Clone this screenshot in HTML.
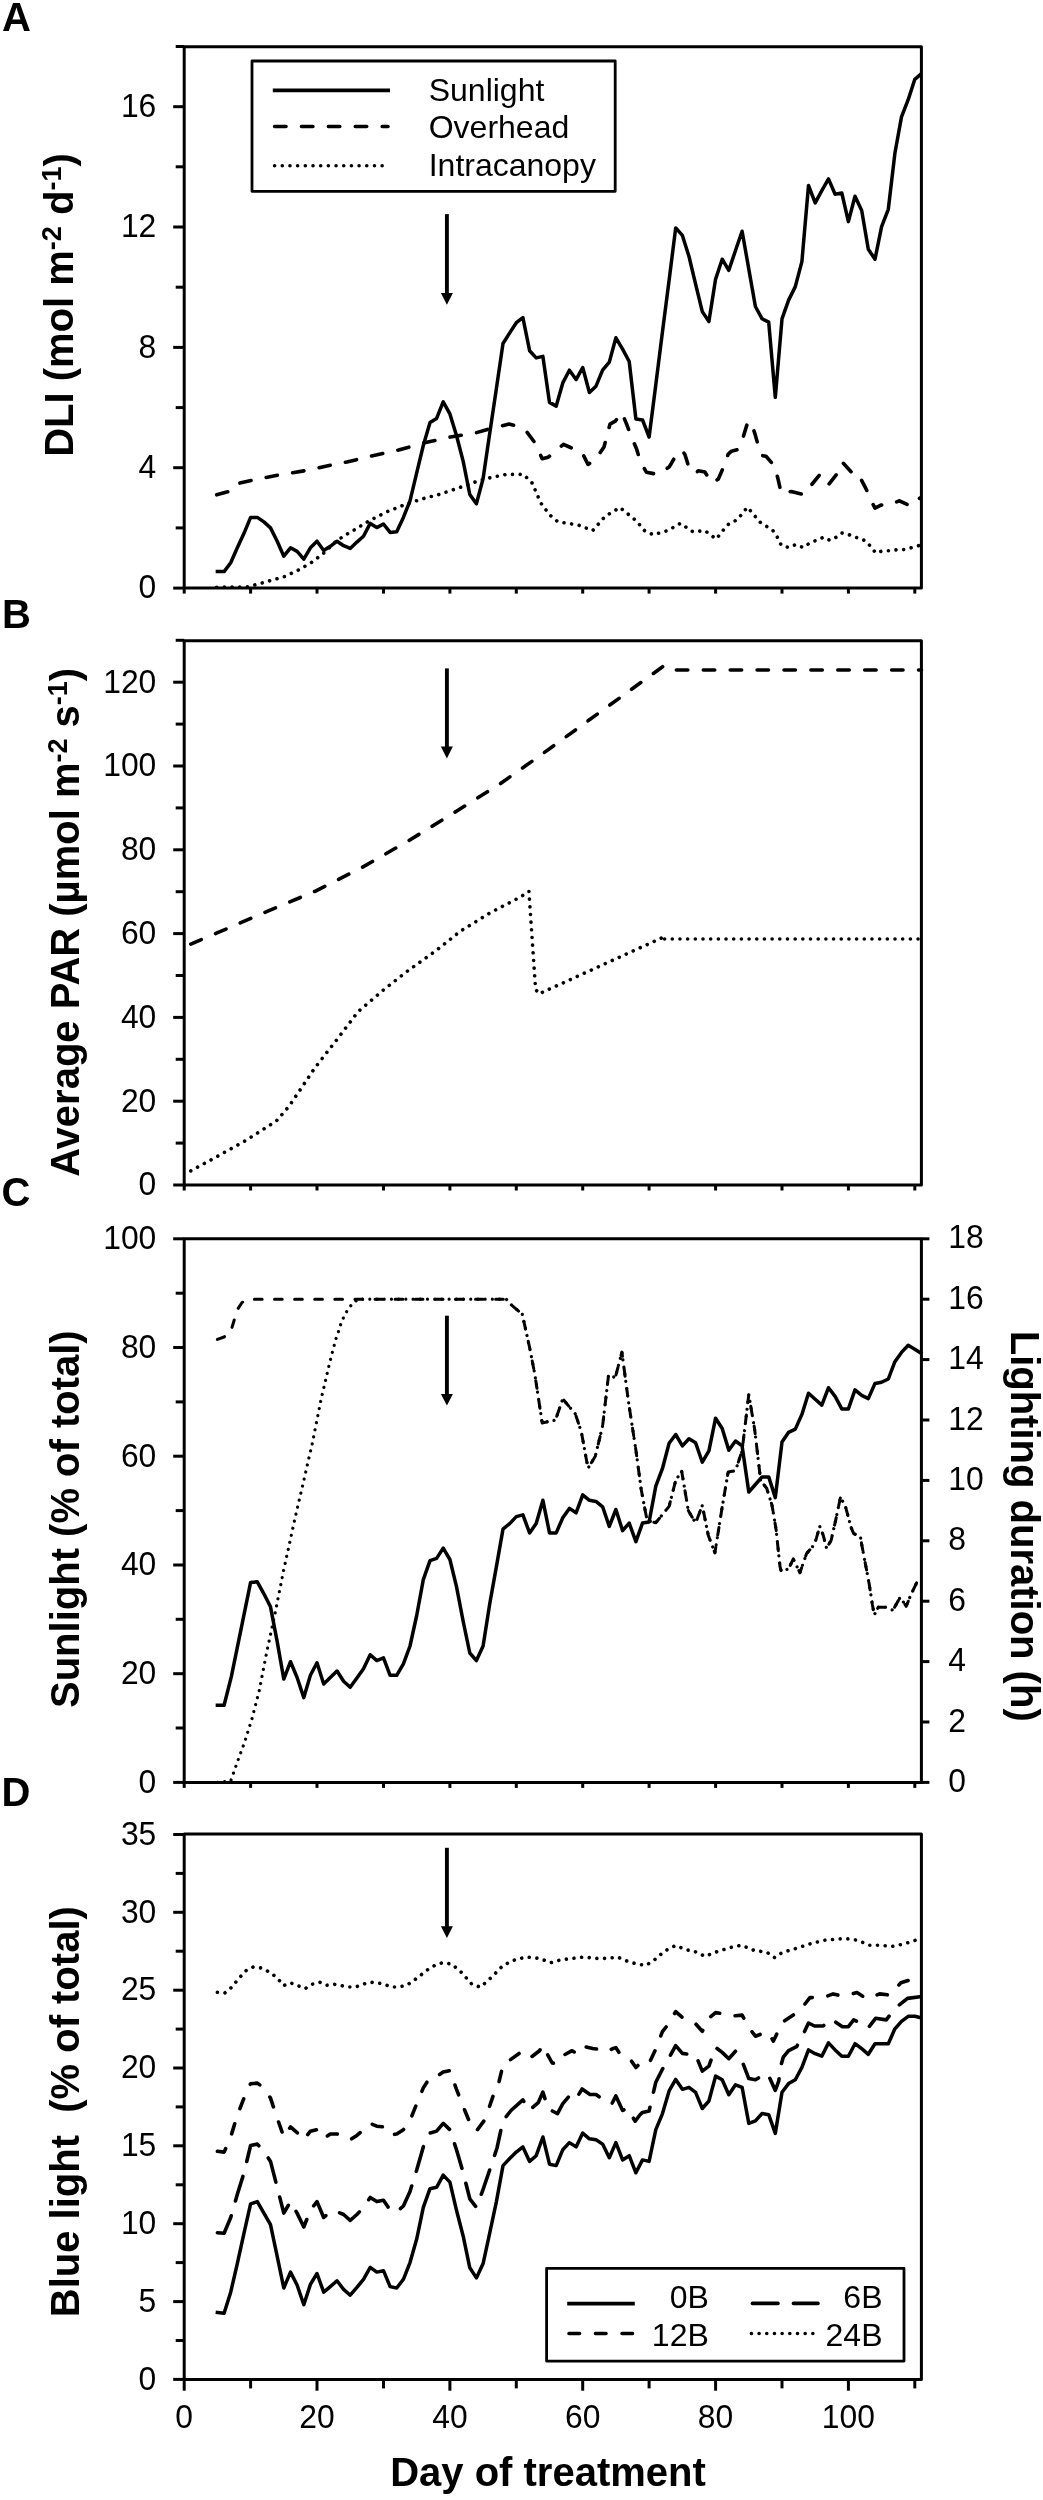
<!DOCTYPE html>
<html><head><meta charset="utf-8"><style>
html,body{margin:0;padding:0;background:#fff;}
svg{display:block;will-change:transform;}
text{font-family:"Liberation Sans",sans-serif;fill:#000;}
.tl{font-size:33px;}
.lg{font-size:32px;}
.ti{font-size:40px;font-weight:bold;}
.pl{font-size:40px;font-weight:bold;}
.sup{font-size:27px;}
</style></head><body>
<svg width="1043" height="2500" viewBox="0 0 1043 2500">
<rect width="1043" height="2500" fill="#fff"/>
<rect x="184.2" y="46.7" width="737.2" height="541.4" stroke="#000" stroke-width="3.0" fill="none" stroke-linejoin="round"/>
<line x1="173.2" y1="588.1" x2="184.2" y2="588.1" stroke="#000" stroke-width="3.0"/>
<text transform="translate(156.30,598.40) scale(0.965,1)" class="tl" text-anchor="end">0</text>
<line x1="175.7" y1="527.9" x2="184.2" y2="527.9" stroke="#000" stroke-width="3.0"/>
<line x1="173.2" y1="467.7" x2="184.2" y2="467.7" stroke="#000" stroke-width="3.0"/>
<text transform="translate(156.30,478.04) scale(0.965,1)" class="tl" text-anchor="end">4</text>
<line x1="175.7" y1="407.6" x2="184.2" y2="407.6" stroke="#000" stroke-width="3.0"/>
<line x1="173.2" y1="347.4" x2="184.2" y2="347.4" stroke="#000" stroke-width="3.0"/>
<text transform="translate(156.30,357.68) scale(0.965,1)" class="tl" text-anchor="end">8</text>
<line x1="175.7" y1="287.2" x2="184.2" y2="287.2" stroke="#000" stroke-width="3.0"/>
<line x1="173.2" y1="227.0" x2="184.2" y2="227.0" stroke="#000" stroke-width="3.0"/>
<text transform="translate(156.30,237.32) scale(0.965,1)" class="tl" text-anchor="end">12</text>
<line x1="175.7" y1="166.8" x2="184.2" y2="166.8" stroke="#000" stroke-width="3.0"/>
<line x1="173.2" y1="106.7" x2="184.2" y2="106.7" stroke="#000" stroke-width="3.0"/>
<text transform="translate(156.30,116.96) scale(0.965,1)" class="tl" text-anchor="end">16</text>
<line x1="175.7" y1="46.5" x2="184.2" y2="46.5" stroke="#000" stroke-width="3.0"/>
<line x1="184.2" y1="588.1" x2="184.2" y2="593.6" stroke="#000" stroke-width="3.0"/>
<line x1="250.6" y1="588.1" x2="250.6" y2="593.6" stroke="#000" stroke-width="3.0"/>
<line x1="317.0" y1="588.1" x2="317.0" y2="593.6" stroke="#000" stroke-width="3.0"/>
<line x1="383.5" y1="588.1" x2="383.5" y2="593.6" stroke="#000" stroke-width="3.0"/>
<line x1="449.9" y1="588.1" x2="449.9" y2="593.6" stroke="#000" stroke-width="3.0"/>
<line x1="516.3" y1="588.1" x2="516.3" y2="593.6" stroke="#000" stroke-width="3.0"/>
<line x1="582.7" y1="588.1" x2="582.7" y2="593.6" stroke="#000" stroke-width="3.0"/>
<line x1="649.1" y1="588.1" x2="649.1" y2="593.6" stroke="#000" stroke-width="3.0"/>
<line x1="715.6" y1="588.1" x2="715.6" y2="593.6" stroke="#000" stroke-width="3.0"/>
<line x1="782.0" y1="588.1" x2="782.0" y2="593.6" stroke="#000" stroke-width="3.0"/>
<line x1="848.4" y1="588.1" x2="848.4" y2="593.6" stroke="#000" stroke-width="3.0"/>
<line x1="914.8" y1="588.1" x2="914.8" y2="593.6" stroke="#000" stroke-width="3.0"/>
<polyline points="216.7,587.2 248.6,586.9 255.3,584.8 270.5,580.6 285.2,576.4 299.1,569.7 312.4,561.9 324.3,552.6 335.3,542.1 341.6,537.5 348.3,533.3 352.6,530.9 369.8,520.4 387.1,511.7 404.4,504.8 421.7,499.0 438.9,494.5 456.1,488.8 476.3,481.6 486.4,478.6 506.3,474.4 523.6,474.4 532.2,483.1 540.9,503.2 549.5,514.7 558.1,521.9 578.1,524.9 592.7,530.6 605.3,516.2 619.9,507.5 635.9,520.4 644.5,530.6 653.1,534.8 667.7,530.6 680.4,523.4 693.0,531.8 704.9,530.6 716.2,539.1 727.5,524.9 737.5,519.5 747.4,507.2 760.1,522.2 772.7,530.3 778.0,538.2 781.3,545.4 788.6,547.5 795.9,544.5 803.2,547.5 809.2,543.3 816.5,540.3 823.8,537.2 829.8,540.3 836.4,537.2 841.8,533.0 847.7,534.2 854.4,537.2 860.4,538.2 866.3,541.5 871.6,547.5 875.6,552.9 882.9,550.8 890.2,550.8 897.6,549.6 904.9,549.6 912.2,547.5 919.5,545.4" fill="none" stroke="#000" stroke-width="3.6" stroke-linejoin="round" stroke-linecap="round" stroke-dasharray="0.01 7.67"/>
<polyline points="216.7,494.8 230.0,491.2 237.3,483.7 252.6,480.1 278.5,475.0 305.1,470.7 331.7,465.0 346.9,462.0 372.7,455.7 398.6,450.0 424.5,442.8 450.4,437.0 476.0,432.8 490.4,428.6 509.0,424.1 515.0,425.6 526.3,431.3 534.9,442.8 542.2,458.7 548.2,457.2 563.5,444.3 569.4,447.0 582.1,452.7 588.0,464.4 595.3,459.9 604.0,447.0 610.0,424.1 615.3,421.1 621.9,412.7 626.6,424.1 631.2,436.4 636.5,448.8 640.5,462.0 646.5,472.3 657.8,474.4 669.1,467.1 676.4,454.8 682.4,450.6 685.0,454.8 689.0,467.7 695.6,473.5 698.3,470.7 704.9,472.0 711.6,482.8 718.2,479.2 723.5,467.1 728.2,454.2 731.5,451.2 737.5,449.7 743.5,436.1 747.4,423.2 750.8,421.7 754.7,433.1 758.7,447.0 761.4,455.4 766.0,456.3 774.7,466.2 778.0,478.9 781.3,493.6 791.3,491.5 803.2,494.5 811.2,485.2 820.5,473.8 829.1,484.0 837.1,473.8 842.4,462.3 851.1,471.7 855.0,478.0 860.4,478.0 866.3,489.4 871.6,501.7 875.0,508.1 880.9,505.1 887.6,505.1 899.5,500.8 910.2,506.0 920.1,497.8" fill="none" stroke="#000" stroke-width="3.6" stroke-linejoin="round" stroke-linecap="round" stroke-dasharray="11.4 15.5"/>
<polyline points="217.4,571.6 224.1,571.6 230.7,562.8 237.3,547.8 244.0,533.3 250.6,517.4 257.3,517.4 263.9,521.9 270.5,527.9 277.2,541.2 283.8,556.2 290.5,547.8 297.1,551.4 303.8,559.2 310.4,547.8 317.0,541.2 323.7,550.5 330.3,546.3 337.0,541.2 343.6,545.7 350.2,548.4 356.9,542.1 363.5,536.3 370.2,523.4 376.8,527.6 383.5,524.0 390.1,532.4 396.7,531.8 403.4,517.4 410.0,500.8 416.7,472.9 423.3,445.5 430.0,422.6 436.6,418.4 443.2,401.8 449.9,413.9 456.5,435.5 463.2,461.4 469.8,494.5 476.4,503.8 483.1,478.6 489.7,433.4 496.4,388.6 503.0,343.5 509.7,332.9 516.3,322.7 522.9,317.6 529.6,350.7 536.2,357.9 542.9,356.4 549.5,402.4 556.2,406.1 562.8,382.9 569.4,370.2 576.1,379.6 582.7,367.5 589.4,392.5 596.0,386.2 602.6,370.2 609.3,362.1 615.9,337.8 622.6,349.2 629.2,361.5 635.9,419.0 642.5,419.9 649.1,437.0 655.8,384.7 662.4,332.3 669.1,280.3 675.7,227.9 682.4,235.4 689.0,256.5 695.6,284.2 702.3,311.6 708.9,321.5 715.6,279.1 722.2,259.2 728.8,270.3 735.5,250.5 742.1,231.2 748.8,269.1 755.4,306.5 762.1,318.8 768.7,322.1 775.3,397.3 782.0,318.8 788.6,300.1 795.3,286.6 801.9,261.6 808.5,185.5 815.2,202.9 821.8,190.6 828.5,178.9 835.1,194.2 841.8,193.0 848.4,221.6 855.0,196.3 861.7,210.5 868.3,249.3 875.0,259.2 881.6,226.7 888.3,209.3 894.9,153.3 901.5,116.9 908.2,99.7 914.8,79.3 920.1,74.8" fill="none" stroke="#000" stroke-width="3.5" stroke-linejoin="round" stroke-linecap="square"/>
<line x1="446.9" y1="214.1" x2="446.9" y2="294.1" stroke="#000" stroke-width="3.9"/>
<polygon points="440.9,293.1 452.9,293.1 446.9,304.7" fill="#000"/>
<rect x="252" y="61" width="363.2" height="130.3" fill="none" stroke="#000" stroke-width="2.8" stroke-linejoin="round"/>
<line x1="272.8" y1="90.4" x2="390" y2="90.4" stroke="#000" stroke-width="3.6"/>
<line x1="274.6" y1="126.5" x2="388" y2="126.5" fill="none" stroke="#000" stroke-width="3.6" stroke-linejoin="round" stroke-linecap="round" stroke-dasharray="11.4 15.5"/>
<line x1="274.6" y1="165.8" x2="385" y2="165.8" fill="none" stroke="#000" stroke-width="3.6" stroke-linejoin="round" stroke-linecap="round" stroke-dasharray="0.01 7.67"/>
<text x="428.7" y="100.5" class="lg">Sunlight</text>
<text x="428.7" y="138" class="lg">Overhead</text>
<text x="428.7" y="176.3" class="lg">Intracanopy</text>
<rect x="184.2" y="640.7" width="737.2" height="544.3" stroke="#000" stroke-width="3.0" fill="none" stroke-linejoin="round"/>
<line x1="173.2" y1="1185.0" x2="184.2" y2="1185.0" stroke="#000" stroke-width="3.0"/>
<text transform="translate(156.30,1195.30) scale(0.965,1)" class="tl" text-anchor="end">0</text>
<line x1="175.7" y1="1143.1" x2="184.2" y2="1143.1" stroke="#000" stroke-width="3.0"/>
<line x1="173.2" y1="1101.2" x2="184.2" y2="1101.2" stroke="#000" stroke-width="3.0"/>
<text transform="translate(156.30,1111.50) scale(0.965,1)" class="tl" text-anchor="end">20</text>
<line x1="175.7" y1="1059.3" x2="184.2" y2="1059.3" stroke="#000" stroke-width="3.0"/>
<line x1="173.2" y1="1017.4" x2="184.2" y2="1017.4" stroke="#000" stroke-width="3.0"/>
<text transform="translate(156.30,1027.70) scale(0.965,1)" class="tl" text-anchor="end">40</text>
<line x1="175.7" y1="975.5" x2="184.2" y2="975.5" stroke="#000" stroke-width="3.0"/>
<line x1="173.2" y1="933.6" x2="184.2" y2="933.6" stroke="#000" stroke-width="3.0"/>
<text transform="translate(156.30,943.90) scale(0.965,1)" class="tl" text-anchor="end">60</text>
<line x1="175.7" y1="891.7" x2="184.2" y2="891.7" stroke="#000" stroke-width="3.0"/>
<line x1="173.2" y1="849.8" x2="184.2" y2="849.8" stroke="#000" stroke-width="3.0"/>
<text transform="translate(156.30,860.10) scale(0.965,1)" class="tl" text-anchor="end">80</text>
<line x1="175.7" y1="807.9" x2="184.2" y2="807.9" stroke="#000" stroke-width="3.0"/>
<line x1="173.2" y1="766.0" x2="184.2" y2="766.0" stroke="#000" stroke-width="3.0"/>
<text transform="translate(156.30,776.30) scale(0.965,1)" class="tl" text-anchor="end">100</text>
<line x1="175.7" y1="724.1" x2="184.2" y2="724.1" stroke="#000" stroke-width="3.0"/>
<line x1="173.2" y1="682.2" x2="184.2" y2="682.2" stroke="#000" stroke-width="3.0"/>
<text transform="translate(156.30,692.50) scale(0.965,1)" class="tl" text-anchor="end">120</text>
<line x1="175.7" y1="640.3" x2="184.2" y2="640.3" stroke="#000" stroke-width="3.0"/>
<line x1="184.2" y1="1185.0" x2="184.2" y2="1190.5" stroke="#000" stroke-width="3.0"/>
<line x1="250.6" y1="1185.0" x2="250.6" y2="1190.5" stroke="#000" stroke-width="3.0"/>
<line x1="317.0" y1="1185.0" x2="317.0" y2="1190.5" stroke="#000" stroke-width="3.0"/>
<line x1="383.5" y1="1185.0" x2="383.5" y2="1190.5" stroke="#000" stroke-width="3.0"/>
<line x1="449.9" y1="1185.0" x2="449.9" y2="1190.5" stroke="#000" stroke-width="3.0"/>
<line x1="516.3" y1="1185.0" x2="516.3" y2="1190.5" stroke="#000" stroke-width="3.0"/>
<line x1="582.7" y1="1185.0" x2="582.7" y2="1190.5" stroke="#000" stroke-width="3.0"/>
<line x1="649.1" y1="1185.0" x2="649.1" y2="1190.5" stroke="#000" stroke-width="3.0"/>
<line x1="715.6" y1="1185.0" x2="715.6" y2="1190.5" stroke="#000" stroke-width="3.0"/>
<line x1="782.0" y1="1185.0" x2="782.0" y2="1190.5" stroke="#000" stroke-width="3.0"/>
<line x1="848.4" y1="1185.0" x2="848.4" y2="1190.5" stroke="#000" stroke-width="3.0"/>
<line x1="914.8" y1="1185.0" x2="914.8" y2="1190.5" stroke="#000" stroke-width="3.0"/>
<polyline points="190.8,1170.8 216.4,1156.9 245.6,1140.6 276.5,1120.9 289.1,1106.2 315.0,1067.7 336.3,1040.4 358.2,1011.5 384.1,989.3 409.4,969.6 435.3,951.2 460.5,931.1 489.7,913.1 520.9,896.7 528.9,891.3 535.6,989.3 538.9,993.9 663.8,937.0" fill="none" stroke="#000" stroke-width="3.6" stroke-linejoin="round" stroke-linecap="round" stroke-dasharray="0.01 7.67"/>
<line x1="664.6" y1="939.0" x2="920.4" y2="939.0" fill="none" stroke="#000" stroke-width="3.6" stroke-linejoin="round" stroke-linecap="round" stroke-dasharray="0.01 7.67"/>
<polyline points="190.8,944.1 216.4,933.2 267.2,911.4 315.0,891.3 362.2,867.4 409.4,840.2 457.2,810.8 500.4,783.6 544.2,752.6 663.8,665.9 669.1,670.0 921.5,670.0" fill="none" stroke="#000" stroke-width="3.6" stroke-linejoin="round" stroke-linecap="round" stroke-dasharray="11.4 15.5"/>
<line x1="446.9" y1="668.4" x2="446.9" y2="747.4" stroke="#000" stroke-width="3.9"/>
<polygon points="440.9,746.4 452.9,746.4 446.9,758.4" fill="#000"/>
<rect x="184.2" y="1238.8" width="737.2" height="543.6" stroke="#000" stroke-width="3.0" fill="none" stroke-linejoin="round"/>
<line x1="173.2" y1="1782.4" x2="184.2" y2="1782.4" stroke="#000" stroke-width="3.0"/>
<text transform="translate(156.30,1792.70) scale(0.965,1)" class="tl" text-anchor="end">0</text>
<line x1="175.7" y1="1728.0" x2="184.2" y2="1728.0" stroke="#000" stroke-width="3.0"/>
<line x1="173.2" y1="1673.7" x2="184.2" y2="1673.7" stroke="#000" stroke-width="3.0"/>
<text transform="translate(156.30,1683.98) scale(0.965,1)" class="tl" text-anchor="end">20</text>
<line x1="175.7" y1="1619.3" x2="184.2" y2="1619.3" stroke="#000" stroke-width="3.0"/>
<line x1="173.2" y1="1565.0" x2="184.2" y2="1565.0" stroke="#000" stroke-width="3.0"/>
<text transform="translate(156.30,1575.26) scale(0.965,1)" class="tl" text-anchor="end">40</text>
<line x1="175.7" y1="1510.6" x2="184.2" y2="1510.6" stroke="#000" stroke-width="3.0"/>
<line x1="173.2" y1="1456.2" x2="184.2" y2="1456.2" stroke="#000" stroke-width="3.0"/>
<text transform="translate(156.30,1466.54) scale(0.965,1)" class="tl" text-anchor="end">60</text>
<line x1="175.7" y1="1401.9" x2="184.2" y2="1401.9" stroke="#000" stroke-width="3.0"/>
<line x1="173.2" y1="1347.5" x2="184.2" y2="1347.5" stroke="#000" stroke-width="3.0"/>
<text transform="translate(156.30,1357.82) scale(0.965,1)" class="tl" text-anchor="end">80</text>
<line x1="175.7" y1="1293.2" x2="184.2" y2="1293.2" stroke="#000" stroke-width="3.0"/>
<line x1="173.2" y1="1238.8" x2="184.2" y2="1238.8" stroke="#000" stroke-width="3.0"/>
<text transform="translate(156.30,1249.10) scale(0.965,1)" class="tl" text-anchor="end">100</text>
<line x1="921.4" y1="1782.4" x2="929.4" y2="1782.4" stroke="#000" stroke-width="3.0"/>
<text transform="translate(948.20,1792.00) scale(0.965,1)" class="tl" text-anchor="start">0</text>
<line x1="921.4" y1="1722.0" x2="929.4" y2="1722.0" stroke="#000" stroke-width="3.0"/>
<text transform="translate(948.20,1731.60) scale(0.965,1)" class="tl" text-anchor="start">2</text>
<line x1="921.4" y1="1661.6" x2="929.4" y2="1661.6" stroke="#000" stroke-width="3.0"/>
<text transform="translate(948.20,1671.20) scale(0.965,1)" class="tl" text-anchor="start">4</text>
<line x1="921.4" y1="1601.2" x2="929.4" y2="1601.2" stroke="#000" stroke-width="3.0"/>
<text transform="translate(948.20,1610.80) scale(0.965,1)" class="tl" text-anchor="start">6</text>
<line x1="921.4" y1="1540.8" x2="929.4" y2="1540.8" stroke="#000" stroke-width="3.0"/>
<text transform="translate(948.20,1550.40) scale(0.965,1)" class="tl" text-anchor="start">8</text>
<line x1="921.4" y1="1480.4" x2="929.4" y2="1480.4" stroke="#000" stroke-width="3.0"/>
<text transform="translate(948.20,1490.00) scale(0.965,1)" class="tl" text-anchor="start">10</text>
<line x1="921.4" y1="1420.0" x2="929.4" y2="1420.0" stroke="#000" stroke-width="3.0"/>
<text transform="translate(948.20,1429.60) scale(0.965,1)" class="tl" text-anchor="start">12</text>
<line x1="921.4" y1="1359.6" x2="929.4" y2="1359.6" stroke="#000" stroke-width="3.0"/>
<text transform="translate(948.20,1369.20) scale(0.965,1)" class="tl" text-anchor="start">14</text>
<line x1="921.4" y1="1299.2" x2="929.4" y2="1299.2" stroke="#000" stroke-width="3.0"/>
<text transform="translate(948.20,1308.80) scale(0.965,1)" class="tl" text-anchor="start">16</text>
<line x1="921.4" y1="1238.8" x2="929.4" y2="1238.8" stroke="#000" stroke-width="3.0"/>
<text transform="translate(948.20,1248.40) scale(0.965,1)" class="tl" text-anchor="start">18</text>
<line x1="184.2" y1="1782.4" x2="184.2" y2="1787.9" stroke="#000" stroke-width="3.0"/>
<line x1="250.6" y1="1782.4" x2="250.6" y2="1787.9" stroke="#000" stroke-width="3.0"/>
<line x1="317.0" y1="1782.4" x2="317.0" y2="1787.9" stroke="#000" stroke-width="3.0"/>
<line x1="383.5" y1="1782.4" x2="383.5" y2="1787.9" stroke="#000" stroke-width="3.0"/>
<line x1="449.9" y1="1782.4" x2="449.9" y2="1787.9" stroke="#000" stroke-width="3.0"/>
<line x1="516.3" y1="1782.4" x2="516.3" y2="1787.9" stroke="#000" stroke-width="3.0"/>
<line x1="582.7" y1="1782.4" x2="582.7" y2="1787.9" stroke="#000" stroke-width="3.0"/>
<line x1="649.1" y1="1782.4" x2="649.1" y2="1787.9" stroke="#000" stroke-width="3.0"/>
<line x1="715.6" y1="1782.4" x2="715.6" y2="1787.9" stroke="#000" stroke-width="3.0"/>
<line x1="782.0" y1="1782.4" x2="782.0" y2="1787.9" stroke="#000" stroke-width="3.0"/>
<line x1="848.4" y1="1782.4" x2="848.4" y2="1787.9" stroke="#000" stroke-width="3.0"/>
<line x1="914.8" y1="1782.4" x2="914.8" y2="1787.9" stroke="#000" stroke-width="3.0"/>
<polyline points="217.4,1782.4 230.7,1780.9 237.3,1762.2 244.6,1742.2 251.9,1719.0 259.3,1690.3 266.6,1652.8 275.2,1612.7 283.8,1569.5 295.1,1517.8 303.8,1480.4 312.4,1443.0 321.0,1399.8 329.7,1362.6 332.3,1352.4 336.3,1337.6 339.0,1330.0 341.0,1323.4 344.3,1315.8 348.3,1308.9 352.9,1303.1 358.2,1299.2 506.3,1299.2 511.7,1305.2 522.3,1314.3 529.6,1347.5 534.9,1374.7 542.2,1423.0 555.5,1420.0 562.8,1398.9 575.4,1414.0 581.4,1432.1 588.0,1468.3 595.3,1456.2 602.6,1426.0 608.6,1374.7 615.3,1377.7 621.9,1352.1 628.5,1401.9 635.9,1450.2 641.2,1489.5 647.1,1520.6 655.8,1522.7 669.1,1506.4 675.7,1480.4 681.7,1471.3 688.3,1510.6 695.6,1523.0 702.3,1505.5 708.3,1535.4 714.9,1552.9 722.2,1507.0 728.2,1471.9 735.5,1470.7 742.1,1450.8 748.8,1394.6 754.7,1429.7 760.7,1480.7 766.7,1488.3 772.0,1505.2 776.0,1529.0 780.0,1566.5 781.3,1571.3 788.6,1568.9 793.3,1558.9 799.9,1572.8 806.6,1553.5 814.5,1544.4 819.8,1526.6 823.2,1535.1 826.5,1548.0 831.1,1540.5 835.8,1519.7 840.4,1497.6 845.1,1505.2 851.1,1527.5 853.7,1533.6 860.4,1536.6 861.7,1544.4 869.0,1582.8 872.3,1604.2 874.3,1614.8 878.3,1607.2 886.3,1607.2 892.9,1610.3 900.2,1597.3 906.2,1606.3 910.8,1594.9 917.5,1581.0" fill="none" stroke="#000" stroke-width="3.2" stroke-linejoin="round" stroke-linecap="round" stroke-dasharray="0.01 7.2"/>
<polyline points="217.4,1339.4 224.1,1337.0 230.7,1331.8 237.3,1309.8 242.0,1302.5 249.3,1299.2 358.2,1299.2 506.3,1299.2 511.7,1305.2 522.3,1314.3 529.6,1347.5 534.9,1374.7 542.2,1423.0 555.5,1420.0 562.8,1398.9 575.4,1414.0 581.4,1432.1 588.0,1468.3 595.3,1456.2 602.6,1426.0 608.6,1374.7 615.3,1377.7 621.9,1352.1 628.5,1401.9 635.9,1450.2 641.2,1489.5 647.1,1520.6 655.8,1522.7 669.1,1506.4 675.7,1480.4 681.7,1471.3 688.3,1510.6 695.6,1523.0 702.3,1505.5 708.3,1535.4 714.9,1552.9 722.2,1507.0 728.2,1471.9 735.5,1470.7 742.1,1450.8 748.8,1394.6 754.7,1429.7 760.7,1480.7 766.7,1488.3 772.0,1505.2 776.0,1529.0 780.0,1566.5 781.3,1571.3 788.6,1568.9 793.3,1558.9 799.9,1572.8 806.6,1553.5 814.5,1544.4 819.8,1526.6 823.2,1535.1 826.5,1548.0 831.1,1540.5 835.8,1519.7 840.4,1497.6 845.1,1505.2 851.1,1527.5 853.7,1533.6 860.4,1536.6 861.7,1544.4 869.0,1582.8 872.3,1604.2 874.3,1614.8 878.3,1607.2 886.3,1607.2 892.9,1610.3 900.2,1597.3 906.2,1606.3 910.8,1594.9 917.5,1581.0" fill="none" stroke="#000" stroke-width="3.0" stroke-linejoin="round" stroke-linecap="round" stroke-dasharray="7.7 12.4"/>
<polyline points="217.4,1705.2 224.1,1705.2 231.4,1676.4 250.6,1582.4 257.3,1581.8 263.9,1593.8 270.5,1606.8 277.2,1641.6 283.8,1679.1 290.5,1661.7 297.1,1677.5 303.8,1697.6 310.4,1675.3 317.0,1662.8 323.7,1684.0 330.3,1677.5 337.0,1671.0 343.6,1681.3 350.2,1687.3 356.9,1678.0 363.5,1668.8 370.2,1654.7 376.8,1660.6 383.5,1657.9 390.1,1675.3 396.7,1675.3 403.4,1663.9 410.0,1646.0 416.7,1615.5 423.3,1579.6 430.0,1560.6 436.6,1558.4 443.2,1548.1 449.9,1559.5 456.5,1586.7 463.2,1621.5 469.8,1653.0 476.4,1660.6 483.1,1646.0 489.7,1604.1 496.4,1566.6 503.0,1529.1 509.7,1523.6 516.3,1516.6 522.9,1514.9 529.6,1532.9 536.2,1523.6 542.9,1500.3 549.5,1532.9 556.2,1532.9 562.8,1517.7 569.4,1508.4 576.1,1512.8 582.7,1494.8 589.4,1500.3 596.0,1501.4 602.6,1506.8 609.3,1526.4 615.9,1509.5 622.6,1530.7 629.2,1523.1 635.9,1541.6 642.5,1523.1 649.1,1522.0 655.8,1486.1 662.4,1468.7 669.1,1443.2 675.7,1434.5 682.4,1445.9 689.0,1438.8 695.6,1442.7 702.3,1462.2 708.9,1450.8 715.6,1418.2 722.2,1428.5 728.8,1450.3 735.5,1441.0 742.1,1445.9 748.8,1492.1 755.4,1484.5 762.1,1476.9 768.7,1476.9 775.3,1497.6 782.0,1442.1 788.6,1432.3 795.3,1429.1 801.9,1414.4 808.5,1393.2 815.2,1399.2 821.8,1405.1 828.5,1387.7 835.1,1396.4 841.8,1408.9 848.4,1408.9 855.0,1389.9 861.7,1395.4 868.3,1398.6 875.0,1383.4 881.6,1382.3 888.3,1379.0 894.9,1361.7 901.5,1352.4 908.2,1345.3 914.8,1349.2 920.8,1353.0" fill="none" stroke="#000" stroke-width="3.5" stroke-linejoin="round" stroke-linecap="square"/>
<line x1="446.9" y1="1315.7" x2="446.9" y2="1395.0" stroke="#000" stroke-width="3.9"/>
<polygon points="440.9,1394.0 452.9,1394.0 446.9,1405.4" fill="#000"/>
<rect x="184.2" y="1834.1" width="737.2" height="545.3" stroke="#000" stroke-width="3.0" fill="none" stroke-linejoin="round"/>
<line x1="173.2" y1="2379.4" x2="184.2" y2="2379.4" stroke="#000" stroke-width="3.0"/>
<text transform="translate(156.30,2389.70) scale(0.965,1)" class="tl" text-anchor="end">0</text>
<line x1="175.7" y1="2340.5" x2="184.2" y2="2340.5" stroke="#000" stroke-width="3.0"/>
<line x1="173.2" y1="2301.6" x2="184.2" y2="2301.6" stroke="#000" stroke-width="3.0"/>
<text transform="translate(156.30,2311.85) scale(0.965,1)" class="tl" text-anchor="end">5</text>
<line x1="175.7" y1="2262.6" x2="184.2" y2="2262.6" stroke="#000" stroke-width="3.0"/>
<line x1="173.2" y1="2223.7" x2="184.2" y2="2223.7" stroke="#000" stroke-width="3.0"/>
<text transform="translate(156.30,2234.00) scale(0.965,1)" class="tl" text-anchor="end">10</text>
<line x1="175.7" y1="2184.8" x2="184.2" y2="2184.8" stroke="#000" stroke-width="3.0"/>
<line x1="173.2" y1="2145.8" x2="184.2" y2="2145.8" stroke="#000" stroke-width="3.0"/>
<text transform="translate(156.30,2156.15) scale(0.965,1)" class="tl" text-anchor="end">15</text>
<line x1="175.7" y1="2106.9" x2="184.2" y2="2106.9" stroke="#000" stroke-width="3.0"/>
<line x1="173.2" y1="2068.0" x2="184.2" y2="2068.0" stroke="#000" stroke-width="3.0"/>
<text transform="translate(156.30,2078.30) scale(0.965,1)" class="tl" text-anchor="end">20</text>
<line x1="175.7" y1="2029.1" x2="184.2" y2="2029.1" stroke="#000" stroke-width="3.0"/>
<line x1="173.2" y1="1990.2" x2="184.2" y2="1990.2" stroke="#000" stroke-width="3.0"/>
<text transform="translate(156.30,2000.45) scale(0.965,1)" class="tl" text-anchor="end">25</text>
<line x1="175.7" y1="1951.2" x2="184.2" y2="1951.2" stroke="#000" stroke-width="3.0"/>
<line x1="173.2" y1="1912.3" x2="184.2" y2="1912.3" stroke="#000" stroke-width="3.0"/>
<text transform="translate(156.30,1922.60) scale(0.965,1)" class="tl" text-anchor="end">30</text>
<line x1="175.7" y1="1873.4" x2="184.2" y2="1873.4" stroke="#000" stroke-width="3.0"/>
<line x1="173.2" y1="1834.5" x2="184.2" y2="1834.5" stroke="#000" stroke-width="3.0"/>
<text transform="translate(156.30,1844.75) scale(0.965,1)" class="tl" text-anchor="end">35</text>
<line x1="184.2" y1="2379.4" x2="184.2" y2="2390.7" stroke="#000" stroke-width="3.0"/>
<line x1="250.6" y1="2379.4" x2="250.6" y2="2388.4" stroke="#000" stroke-width="3.0"/>
<line x1="317.0" y1="2379.4" x2="317.0" y2="2390.7" stroke="#000" stroke-width="3.0"/>
<line x1="383.5" y1="2379.4" x2="383.5" y2="2388.4" stroke="#000" stroke-width="3.0"/>
<line x1="449.9" y1="2379.4" x2="449.9" y2="2390.7" stroke="#000" stroke-width="3.0"/>
<line x1="516.3" y1="2379.4" x2="516.3" y2="2388.4" stroke="#000" stroke-width="3.0"/>
<line x1="582.7" y1="2379.4" x2="582.7" y2="2390.7" stroke="#000" stroke-width="3.0"/>
<line x1="649.1" y1="2379.4" x2="649.1" y2="2388.4" stroke="#000" stroke-width="3.0"/>
<line x1="715.6" y1="2379.4" x2="715.6" y2="2390.7" stroke="#000" stroke-width="3.0"/>
<line x1="782.0" y1="2379.4" x2="782.0" y2="2388.4" stroke="#000" stroke-width="3.0"/>
<line x1="848.4" y1="2379.4" x2="848.4" y2="2390.7" stroke="#000" stroke-width="3.0"/>
<line x1="914.8" y1="2379.4" x2="914.8" y2="2388.4" stroke="#000" stroke-width="3.0"/>
<polyline points="217.4,1992.3 224.7,1993.0 232.0,1987.0 238.7,1978.5 246.0,1970.7 253.3,1967.0 260.6,1967.9 267.9,1971.3 276.5,1977.1 283.8,1985.6 290.5,1982.8 297.8,1985.6 305.1,1988.6 312.4,1984.2 319.7,1982.2 327.0,1985.2 333.6,1984.2 341.0,1985.6 348.3,1987.0 355.6,1987.0 362.9,1984.2 370.2,1982.2 376.8,1982.8 384.1,1984.2 391.4,1987.0 398.7,1987.0 406.0,1985.6 412.7,1981.4 420.0,1975.7 427.3,1969.9 434.6,1965.5 442.6,1962.7 451.9,1964.1 461.8,1972.7 471.8,1984.2 480.4,1987.2 491.7,1977.1 503.0,1965.5 515.0,1959.8 526.3,1957.0 539.5,1958.4 550.8,1962.7 560.8,1959.8 572.1,1958.4 584.0,1957.0 595.3,1958.4 607.3,1958.4 617.3,1957.0 627.2,1961.2 637.2,1964.1 645.8,1965.5 654.5,1959.8 664.4,1951.2 675.7,1945.5 686.3,1949.8 694.3,1951.2 704.9,1956.4 717.6,1951.4 730.2,1947.6 741.5,1945.2 753.4,1950.1 767.4,1952.6 774.7,1957.6 782.0,1952.6 794.6,1948.9 809.9,1943.9 824.5,1940.2 839.8,1938.9 849.7,1938.9 857.0,1940.2 869.7,1945.2 879.6,1945.2 892.2,1946.4 904.2,1943.9 915.5,1940.2 920.1,1938.8" fill="none" stroke="#000" stroke-width="3.6" stroke-linejoin="round" stroke-linecap="round" stroke-dasharray="0.01 7.67"/>
<polyline points="217.4,2151.3 224.1,2152.1 230.7,2137.0 237.3,2115.3 244.0,2098.1 250.6,2083.7 257.3,2083.1 263.9,2087.9 270.5,2098.1 277.2,2118.1 283.8,2137.0 290.5,2126.9 297.1,2132.6 303.8,2139.8 310.4,2131.2 317.0,2129.7 323.7,2138.4 330.3,2134.0 337.0,2134.0 343.6,2136.0 350.2,2139.8 356.9,2135.4 363.5,2129.7 370.2,2123.4 376.8,2126.2 383.5,2126.9 390.1,2135.0 396.7,2134.0 403.4,2129.7 410.0,2120.5 416.7,2103.8 423.3,2087.9 430.0,2077.3 436.6,2076.4 443.2,2072.0 449.9,2070.6 456.5,2089.3 463.2,2106.6 469.8,2122.5 476.4,2131.1 483.8,2121.2 488.4,2109.7 493.1,2095.9 498.4,2084.3 501.7,2070.6 503.0,2064.6 509.0,2060.7 520.9,2052.1 529.6,2058.3 539.5,2050.7 542.9,2045.3 546.2,2052.1 552.2,2063.0 556.8,2063.6 562.1,2056.0 572.1,2050.7 576.1,2053.1 581.4,2046.0 592.7,2048.5 598.7,2049.2 605.3,2052.1 613.3,2048.4 615.9,2047.6 621.2,2056.0 631.2,2060.7 635.9,2067.5 639.8,2063.6 642.5,2062.1 649.1,2063.5 655.8,2049.0 662.4,2031.7 669.1,2023.2 675.7,2011.6 682.4,2017.4 689.0,2021.8 695.6,2023.8 702.3,2031.3 708.9,2018.2 715.6,2012.6 722.2,2013.5 728.8,2016.3 735.5,2015.7 742.1,2015.1 748.8,2027.5 755.4,2036.2 762.1,2033.7 768.7,2032.5 773.3,2041.2 778.7,2030.0 782.0,2022.5 793.3,2015.1 803.2,2006.3 809.9,1997.6 815.2,1997.6 821.8,1998.1 833.1,1993.9 843.1,1996.4 857.0,1992.6 867.0,1998.9 879.6,1993.9 889.6,1995.1 900.9,1982.7 913.5,1978.9 920.1,1977.7" fill="none" stroke="#000" stroke-width="3.6" stroke-linejoin="round" stroke-linecap="round" stroke-dasharray="10.5 16"/>
<polyline points="217.4,2232.7 224.1,2233.2 230.7,2217.5 237.3,2194.4 244.0,2172.8 250.6,2145.5 257.3,2144.1 263.9,2151.3 270.5,2161.4 277.2,2187.3 283.8,2213.1 290.5,2201.6 297.1,2213.1 303.8,2227.0 310.4,2210.2 317.0,2201.6 323.7,2217.5 330.3,2211.7 337.0,2211.7 343.6,2214.5 350.2,2220.3 356.9,2214.5 363.5,2207.4 370.2,2197.4 376.8,2201.6 383.5,2200.2 390.1,2210.2 396.7,2211.7 403.4,2206.0 410.0,2191.5 416.7,2170.0 423.3,2146.9 430.0,2133.1 436.6,2131.1 443.2,2123.3 449.9,2129.7 456.5,2149.7 463.2,2172.8 469.8,2198.8 476.4,2207.4 483.1,2189.4 492.4,2161.9 497.0,2148.0 503.0,2120.5 511.0,2110.5 522.9,2099.8 528.9,2110.5 538.2,2102.7 542.9,2092.1 548.2,2108.9 557.5,2113.6 562.8,2103.7 569.4,2095.9 575.4,2099.8 582.1,2089.0 590.0,2094.5 596.0,2094.5 605.3,2101.3 611.9,2103.7 615.9,2095.9 622.6,2110.5 627.2,2108.2 635.2,2121.2 639.8,2115.0 642.5,2112.4 649.1,2111.0 655.8,2082.2 662.4,2069.2 669.1,2057.7 675.7,2045.6 682.4,2053.4 689.0,2054.3 695.6,2054.9 702.3,2071.1 708.9,2066.1 715.6,2047.4 722.2,2052.4 728.8,2058.7 735.5,2051.2 742.1,2061.1 748.8,2078.6 755.4,2079.8 762.1,2075.8 767.7,2073.6 775.3,2090.4 778.7,2081.2 780.7,2066.4 783.3,2057.1 788.6,2050.6 796.6,2046.7 803.2,2034.5 808.5,2023.0 814.5,2026.0 823.2,2026.0 831.1,2019.1 842.4,2026.7 848.4,2026.7 853.7,2019.9 863.7,2024.6 868.3,2027.7 875.6,2018.3 886.3,2019.9 894.9,2008.4 907.5,1998.4 920.1,1996.8" fill="none" stroke="#000" stroke-width="3.6" stroke-linejoin="round" stroke-linecap="round" stroke-dasharray="25.6 15.4"/>
<polyline points="217.4,2312.4 224.1,2313.2 230.7,2292.2 237.3,2263.6 244.0,2233.2 250.6,2203.9 257.3,2201.6 263.9,2213.1 270.5,2224.6 277.2,2256.4 283.8,2288.0 290.5,2272.1 297.1,2285.0 303.8,2304.7 310.4,2284.4 317.0,2273.5 323.7,2292.2 330.3,2286.6 337.0,2280.8 343.6,2289.4 350.2,2295.2 356.9,2287.4 363.5,2279.3 370.2,2267.3 376.8,2272.1 383.5,2270.7 390.1,2286.6 396.7,2288.0 403.4,2279.3 410.0,2262.6 416.7,2239.1 423.3,2207.4 430.0,2188.7 436.6,2187.3 443.2,2175.1 449.9,2182.1 456.5,2210.3 463.2,2236.2 469.8,2267.8 476.4,2277.9 483.1,2263.6 489.7,2233.2 496.4,2201.6 503.0,2165.6 509.7,2158.5 516.3,2152.1 522.9,2146.9 529.6,2161.4 536.2,2155.7 542.9,2137.0 549.5,2164.2 556.2,2165.6 562.8,2149.7 569.4,2142.6 576.1,2146.9 582.7,2133.1 589.4,2138.8 596.0,2139.8 602.6,2144.1 609.3,2157.8 615.9,2142.6 622.6,2159.9 629.2,2155.7 635.9,2172.8 642.5,2159.9 649.1,2161.4 655.8,2129.7 662.4,2113.8 669.1,2090.9 675.7,2079.4 682.4,2089.3 689.0,2087.3 695.6,2092.3 702.3,2108.5 708.9,2101.0 715.6,2076.1 722.2,2079.8 728.8,2094.8 735.5,2084.8 742.1,2087.3 748.8,2123.4 755.4,2120.9 762.1,2113.5 768.7,2114.7 775.3,2133.4 782.0,2092.3 788.6,2083.6 795.3,2079.8 801.9,2067.4 808.5,2049.9 815.2,2053.7 821.8,2056.2 828.5,2042.9 835.1,2049.9 841.8,2056.2 848.4,2056.2 855.0,2043.7 861.7,2048.7 868.3,2054.3 875.0,2043.7 881.6,2043.7 888.3,2043.7 894.9,2028.8 901.5,2021.3 908.2,2016.3 914.8,2016.3 920.1,2017.6" fill="none" stroke="#000" stroke-width="3.5" stroke-linejoin="round" stroke-linecap="square"/>
<line x1="446.9" y1="1847.8" x2="446.9" y2="1927.3" stroke="#000" stroke-width="3.9"/>
<polygon points="440.9,1926.3 452.9,1926.3 446.9,1937.9" fill="#000"/>
<rect x="546.6" y="2268.4" width="357.4" height="92.7" fill="#fff" stroke="#000" stroke-width="2.8" stroke-linejoin="round"/>
<line x1="567.2" y1="2303.6" x2="634.8" y2="2303.6" stroke="#000" stroke-width="3.8"/>
<line x1="752.4" y1="2303.4" x2="818" y2="2303.4" fill="none" stroke="#000" stroke-width="3.6" stroke-linejoin="round" stroke-linecap="round" stroke-dasharray="25.6 15.4"/>
<line x1="569" y1="2333.5" x2="634" y2="2333.5" fill="none" stroke="#000" stroke-width="3.6" stroke-linejoin="round" stroke-linecap="round" stroke-dasharray="10.5 16"/>
<line x1="751.4" y1="2333.5" x2="814" y2="2333.5" fill="none" stroke="#000" stroke-width="3.6" stroke-linejoin="round" stroke-linecap="round" stroke-dasharray="0.01 7.67"/>
<text x="708.8" y="2307.8" class="lg" text-anchor="end">0B</text>
<text x="708.8" y="2346.2" class="lg" text-anchor="end">12B</text>
<text x="882.5" y="2307.8" class="lg" text-anchor="end">6B</text>
<text x="882.5" y="2346.2" class="lg" text-anchor="end">24B</text>
<text transform="translate(184.20,2427.60) scale(0.965,1)" class="tl" text-anchor="middle">0</text>
<text transform="translate(317.04,2427.60) scale(0.965,1)" class="tl" text-anchor="middle">20</text>
<text transform="translate(449.88,2427.60) scale(0.965,1)" class="tl" text-anchor="middle">40</text>
<text transform="translate(582.72,2427.60) scale(0.965,1)" class="tl" text-anchor="middle">60</text>
<text transform="translate(715.56,2427.60) scale(0.965,1)" class="tl" text-anchor="middle">80</text>
<text transform="translate(848.40,2427.60) scale(0.965,1)" class="tl" text-anchor="middle">100</text>
<text x="548" y="2486" class="ti" text-anchor="middle">Day of treatment</text>
<text x="2" y="31" class="pl">A</text>
<text x="2" y="627.6" class="pl">B</text>
<text x="1.5" y="1205.6" class="pl">C</text>
<text x="1.5" y="1806" class="pl">D</text>
<text transform="translate(73.2,456.8) rotate(-90)" class="ti">DLI (mol m<tspan class="sup" dy="-12.4">-2</tspan><tspan dy="12.4"> d</tspan><tspan class="sup" dy="-12.4">-1</tspan><tspan dy="12.4">)</tspan></text>
<text transform="translate(79.0,1176.8) rotate(-90)" class="ti">Average PAR (µmol m<tspan class="sup" dy="-12.4">-2</tspan><tspan dy="12.4"> s</tspan><tspan class="sup" dy="-12.4">-1</tspan><tspan dy="12.4">)</tspan></text>
<text transform="translate(79.0,1708.0) rotate(-90)" class="ti">Sunlight (% of total)</text>
<text transform="translate(79.0,2317.2) rotate(-90)" class="ti">Blue light  (% of total)</text>
<text transform="translate(1010.5,1330.7) rotate(90)" class="ti">Lighting duration (h)</text>
</svg>
</body></html>
